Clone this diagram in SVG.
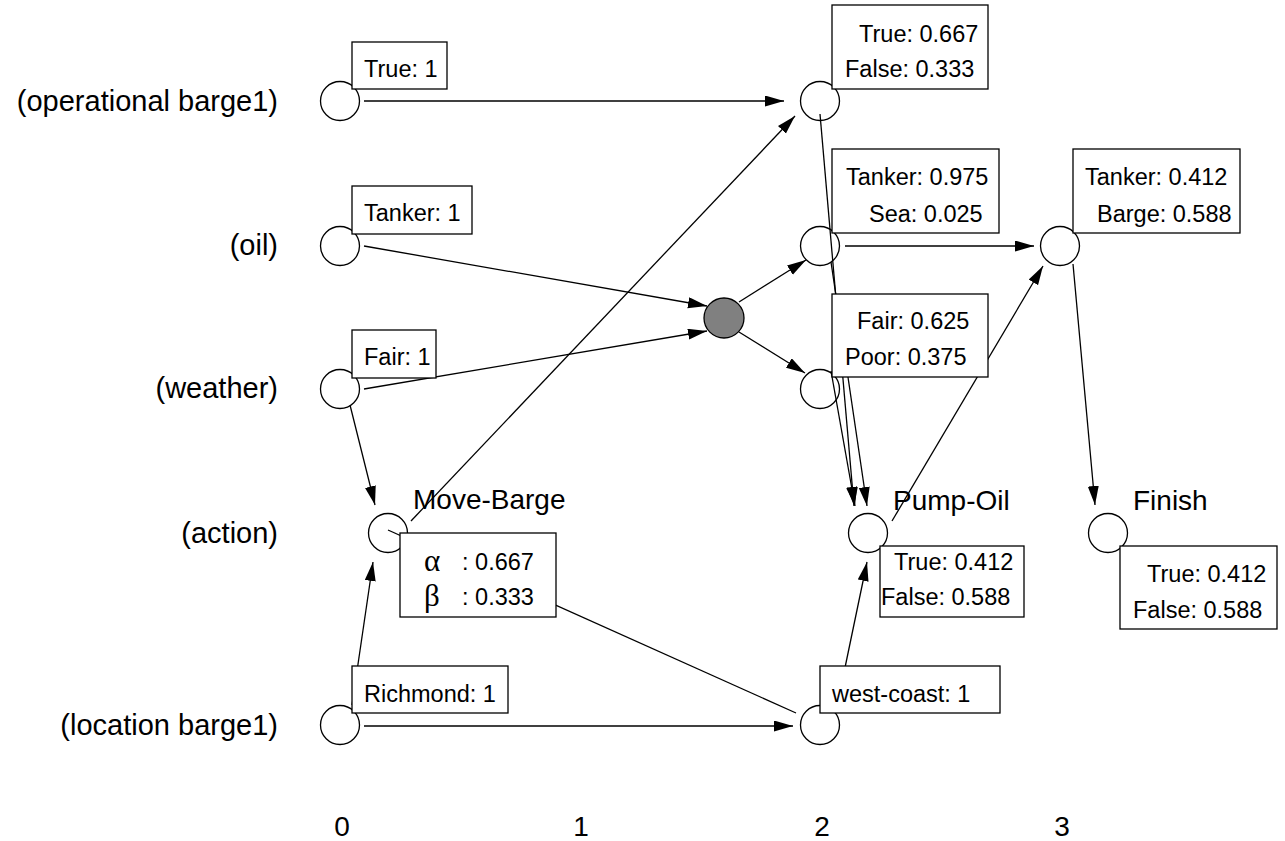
<svg xmlns="http://www.w3.org/2000/svg" width="1285" height="841" viewBox="0 0 1285 841">
<style>
.c{fill:none;stroke:#000;stroke-width:1.3}
.b{fill:#fff;stroke:#000;stroke-width:1.3}
.t{font-family:"Liberation Sans",Arial,sans-serif;font-size:23.5px;fill:#000}
.n{font-family:"Liberation Sans",Arial,sans-serif;font-size:28px;fill:#000}
.r{font-family:"Liberation Sans",Arial,sans-serif;font-size:29px;fill:#000}
.g{font-family:"Liberation Serif","Times New Roman",serif;font-size:31px;fill:#000}
.e{fill:none;stroke:#000;stroke-width:1.3;marker-end:url(#ah)}
.l{fill:none;stroke:#000;stroke-width:1.3}
</style>
<defs>
<marker id="ah" markerUnits="userSpaceOnUse" markerWidth="20" markerHeight="12" refX="19" refY="5.5" orient="auto">
<path d="M0,0 L19,5.5 L0,11 z" fill="#000"/>
</marker>
</defs>
<g id="row-labels">
<text class="r" x="278" y="111" text-anchor="end">(operational barge1)</text>
<text class="r" x="278" y="255" text-anchor="end">(oil)</text>
<text class="r" x="278" y="398" text-anchor="end">(weather)</text>
<text class="r" x="278" y="543" text-anchor="end">(action)</text>
<text class="r" x="278" y="735" text-anchor="end">(location barge1)</text>
</g>
<g id="axis">
<text class="n" x="342" y="836" text-anchor="middle">0</text>
<text class="n" x="581" y="836" text-anchor="middle">1</text>
<text class="n" x="822" y="836" text-anchor="middle">2</text>
<text class="n" x="1062" y="836" text-anchor="middle">3</text>
</g>
<g id="connectors">
<line class="e" x1="364" y1="101" x2="784" y2="101"/>
<line class="e" x1="364" y1="246" x2="707" y2="306"/>
<line class="e" x1="364" y1="389" x2="707" y2="331"/>
<line class="e" x1="739" y1="302" x2="806" y2="260"/>
<line class="e" x1="739" y1="332" x2="805" y2="373"/>
<line class="e" x1="845" y1="246" x2="1034" y2="246"/>
<line class="e" x1="350" y1="405" x2="375" y2="505"/>
<line class="e" x1="411" y1="521" x2="795" y2="116"/>
<line class="e" x1="352" y1="705" x2="373" y2="562"/>
<line class="e" x1="364" y1="726" x2="793" y2="726"/>
<line class="l" x1="388" y1="530" x2="796" y2="713"/>
<line class="e" x1="837" y1="706" x2="867" y2="562"/>
<line class="e" x1="892" y1="521" x2="1043" y2="266"/>
<line class="e" x1="1073" y1="264" x2="1095" y2="505"/>
<line class="e" x1="820" y1="114" x2="854" y2="506"/>
<line class="e" x1="831" y1="262" x2="867" y2="506"/>
<line class="e" x1="831" y1="371" x2="855" y2="506"/>
</g>
<g id="op0">
<circle class="c" cx="340" cy="101" r="19.5"/>
<rect class="b" x="352" y="42" width="95" height="47"/>
<text class="t" x="364" y="77">True: 1</text>
</g>
<g id="op2">
<circle class="c" cx="820" cy="101" r="19.5"/>
<rect class="b" x="832" y="5" width="156" height="84"/>
<text class="t" x="859" y="42">True: 0.667</text>
<text class="t" x="845" y="77">False: 0.333</text>
</g>
<g id="oil0">
<circle class="c" cx="340" cy="246" r="19.5"/>
<rect class="b" x="352" y="186" width="120" height="48"/>
<text class="t" x="364" y="221">Tanker: 1</text>
</g>
<g id="oil2">
<circle class="c" cx="820" cy="246" r="19.5"/>
<rect class="b" x="832" y="149" width="167" height="84"/>
<text class="t" x="846" y="185">Tanker: 0.975</text>
<text class="t" x="869" y="222">Sea: 0.025</text>
</g>
<g id="oil3">
<circle class="c" cx="1060" cy="246" r="19.5"/>
<rect class="b" x="1073" y="149" width="167" height="84"/>
<text class="t" x="1085" y="185">Tanker: 0.412</text>
<text class="t" x="1097" y="222">Barge: 0.588</text>
</g>
<g id="decision">
<circle cx="724" cy="318" r="20" fill="#808080" stroke="#000" stroke-width="1.3"/>
</g>
<g id="weather0">
<circle class="c" cx="340" cy="389" r="19.5"/>
<rect class="b" x="352" y="330" width="84" height="48"/>
<text class="t" x="364" y="365">Fair: 1</text>
</g>
<g id="weather2">
<circle class="c" cx="820" cy="389" r="19.5"/>
<rect class="b" x="832" y="294" width="156" height="83"/>
<text class="t" x="857" y="329">Fair: 0.625</text>
<text class="t" x="845" y="365">Poor: 0.375</text>
</g>
<g id="move-barge">
<circle class="c" cx="388" cy="533" r="19.5"/>
<text class="n" x="413" y="509">Move-Barge</text>
<rect class="b" x="400" y="533" width="156" height="84"/>
<text class="g" x="424" y="571">α</text>
<text class="t" x="462" y="570">: 0.667</text>
<text class="g" x="424" y="606">β</text>
<text class="t" x="462" y="605">: 0.333</text>
</g>
<g id="pump-oil">
<circle class="c" cx="868" cy="533" r="19.5"/>
<text class="n" x="893" y="510">Pump-Oil</text>
<rect class="b" x="880" y="546" width="144" height="71"/>
<text class="t" x="894" y="570">True: 0.412</text>
<text class="t" x="881" y="605">False: 0.588</text>
</g>
<g id="finish">
<circle class="c" cx="1108" cy="533" r="19.5"/>
<text class="n" x="1133" y="510">Finish</text>
<rect class="b" x="1120" y="546" width="157" height="83"/>
<text class="t" x="1147" y="582">True: 0.412</text>
<text class="t" x="1133" y="618">False: 0.588</text>
</g>
<g id="loc0">
<circle class="c" cx="340" cy="725" r="19.5"/>
<rect class="b" x="352" y="666" width="156" height="47"/>
<text class="t" x="364" y="702">Richmond: 1</text>
</g>
<g id="loc2">
<circle class="c" cx="820" cy="725" r="19.5"/>
<rect class="b" x="820" y="666" width="180" height="47"/>
<text class="t" x="832" y="702">west-coast: 1</text>
</g>
</svg>
